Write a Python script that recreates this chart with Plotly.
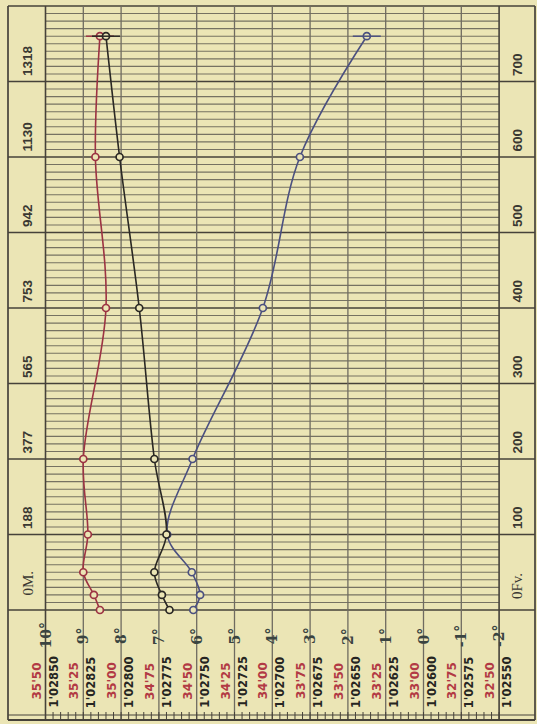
import plotly.graph_objects as go

# ---------------- data ----------------
depth_fathoms = [0, 20, 50, 100, 200, 400, 600, 760]
temperature = [6.09, 5.91, 6.13, 6.78, 6.11, 4.25, 3.27, 1.50]          # blue curve, deg C
salinity = [35.14, 35.18, 35.25, 35.22, 35.25, 35.10, 35.17, 35.14]      # red curve
density = [1.02768, 1.02773, 1.02778, 1.02770, 1.02778, 1.02788, 1.02801, 1.02810]  # black curve

temp_ticks = [10, 9, 8, 7, 6, 5, 4, 3, 2, 1, 0, -1, -2]
temp_labels = ["10°", "9°", "8°", "7°", "6°", "5°", "4°", "3°", "2°", "1°", "0°", "-1°", "-2°"]
sal_ticks = [35.50, 35.25, 35.00, 34.75, 34.50, 34.25, 34.00, 33.75, 33.50, 33.25, 33.00, 32.75, 32.50]
sal_labels = ["35'50", "35'25", "35'00", "34'75", "34'50", "34'25", "34'00",
              "33'75", "33'50", "33'25", "33'00", "32'75", "32'50"]
dens_ticks = [1.02850, 1.02825, 1.02800, 1.02775, 1.02750, 1.02725, 1.02700,
              1.02675, 1.02650, 1.02625, 1.02600, 1.02575, 1.02550]
dens_labels = ["1'02850", "1'02825", "1'02800", "1'02775", "1'02750", "1'02725", "1'02700",
               "1'02675", "1'02650", "1'02625", "1'02600", "1'02575", "1'02550"]
fathom_ticks = [0, 100, 200, 300, 400, 500, 600, 700]
fathom_labels = ["0Fv.", "100", "200", "300", "400", "500", "600", "700"]
meter_labels = ["0M.", "188", "377", "565", "753", "942", "1130", "1318"]

# ---------------- layout geometry ----------------
W, H = 537, 724
X10 = 45.5          # pixel of the 10 deg line
PX_DEG = 37.8       # pixels per degree
Y0 = 610            # pixel of depth 0
PX_FATH = 0.755     # pixels per fathom


def t_at(px):
    return 10 - (px - X10) / PX_DEG


def d_at(py):
    return (Y0 - py) / PX_FATH


def s_of(t):
    return 35.50 - 0.25 * (10 - t)


def dn_of(t):
    return 1.02850 - 0.00025 * (10 - t)


xr = [t_at(0), t_at(W)]
yr = [d_at(H), d_at(0)]

BG = "#ebe5b5"
BLUE = "#4b5080"
RED = "#9c3343"
BLACK = "#2a2824"

fig = go.Figure()


def curve(x, y, color, axis, name):
    fig.add_trace(go.Scatter(
        x=x, y=y, xaxis=axis, yaxis="y", mode="lines+markers", name=name,
        line=dict(color=color, width=1.6, shape="spline", smoothing=1.0),
        marker=dict(symbol="circle", size=7, color=BG, line=dict(color=color, width=1.7)),
        showlegend=False, hoverinfo="skip"))
    fig.add_trace(go.Scatter(
        x=[x[-1]], y=[y[-1]], xaxis=axis, yaxis="y", mode="markers",
        marker=dict(symbol="line-ew", size=20, line=dict(color=color, width=1.5)),
        showlegend=False, hoverinfo="skip"))


curve(salinity, depth_fathoms, RED, "x2", "Salinity")
curve(density, depth_fathoms, BLACK, "x3", "Density")
curve(temperature, depth_fathoms, BLUE, "x", "Temperature")

shapes = []
xl, xrb = t_at(8), t_at(535)
ytop = 800
ybot = d_at(720)

minor_c = "#767262"
major_c = "#46423a"
vert_c = "#6f6b60"

# minor horizontal lines every 10 fathoms
for d in range(10, 800, 10):
    if d % 100 == 0:
        continue
    shapes.append(dict(type="line", xref="x", yref="y", x0=10, x1=-2, y0=d, y1=d,
                       line=dict(color=minor_c, width=1.1), layer="below"))
# major horizontal lines
for d in fathom_ticks:
    shapes.append(dict(type="line", xref="x", yref="y", x0=xl, x1=xrb, y0=d, y1=d,
                       line=dict(color=major_c, width=1.7), layer="below"))
# top border
shapes.append(dict(type="line", xref="x", yref="y", x0=xl, x1=xrb, y0=ytop, y1=ytop,
                   line=dict(color=major_c, width=1.7), layer="below"))
# vertical degree lines
for t in temp_ticks:
    shapes.append(dict(type="line", xref="x", yref="y", x0=t, x1=t, y0=ybot, y1=ytop,
                       line=dict(color=vert_c if t not in (10, -2) else major_c,
                                 width=1.3 if t not in (10, -2) else 1.6), layer="below"))
# outer borders
for xv in (xl, xrb):
    shapes.append(dict(type="line", xref="x", yref="y", x0=xv, x1=xv, y0=ybot, y1=ytop,
                       line=dict(color=major_c, width=1.7), layer="below"))
# bottom scale line and border with small ticks
shapes.append(dict(type="line", xref="x", yref="y", x0=xl, x1=xrb, y0=d_at(715), y1=d_at(715),
                   line=dict(color=major_c, width=1), layer="below"))
shapes.append(dict(type="line", xref="x", yref="y", x0=xl, x1=xrb, y0=ybot, y1=ybot,
                   line=dict(color=major_c, width=2), layer="below"))
k = 0
while 10 - 0.2 * k >= -2 - 1e-9:
    tv = 10 - 0.2 * k
    shapes.append(dict(type="line", xref="x", yref="y", x0=tv, x1=tv, y0=d_at(712), y1=ybot,
                       line=dict(color=major_c, width=1), layer="below"))
    k += 1

annotations = []
# temperature labels
for t, lab in zip(temp_ticks, temp_labels):
    annotations.append(dict(x=t, y=d_at(636), xref="x", yref="y", text="<b>" + lab + "</b>",
                            showarrow=False, textangle=-90,
                            font=dict(family="DejaVu Serif", size=14, color="#3a4441"),
                            xanchor="center", yanchor="middle"))
# salinity labels
for s, lab in zip(sal_ticks, sal_labels):
    annotations.append(dict(x=s, y=d_at(681), xref="x2", yref="y", text="<b>" + lab + "</b>",
                            showarrow=False, textangle=-90, xshift=-9,
                            font=dict(family="DejaVu Sans", size=12, color="#b23a44"),
                            xanchor="center", yanchor="middle"))
# density labels
for dv, lab in zip(dens_ticks, dens_labels):
    annotations.append(dict(x=dv, y=d_at(682), xref="x3", yref="y", text="<b>" + lab + "</b>",
                            showarrow=False, textangle=-90, xshift=8,
                            font=dict(family="DejaVu Sans", size=11.5, color="#262522"),
                            xanchor="center", yanchor="middle"))
# depth labels (meters on the left, fathoms on the right)
for d, ml, fl in zip(fathom_ticks, meter_labels, fathom_labels):
    zero = d == 0
    annotations.append(dict(x=27 / W, y=d + (12 if zero else 3) / PX_FATH, xref="paper", yref="y",
                            text=ml if zero else "<b>" + ml + "</b>",
                            showarrow=False, textangle=-90,
                            font=dict(family="Liberation Serif" if zero else "Liberation Sans",
                                      size=15 if zero else 13.5, color="#3a3832"),
                            xanchor="center", yanchor="bottom"))
    annotations.append(dict(x=517 / W, y=d + (9 if zero else 3) / PX_FATH, xref="paper", yref="y",
                            text=fl if zero else "<b>" + fl + "</b>",
                            showarrow=False, textangle=-90,
                            font=dict(family="Liberation Serif" if zero else "Liberation Sans",
                                      size=15 if zero else 13.5, color="#3a3832"),
                            xanchor="center", yanchor="bottom"))

fig.update_layout(
    width=W, height=H, autosize=False,
    margin=dict(l=0, r=0, t=0, b=0, pad=0),
    paper_bgcolor=BG, plot_bgcolor=BG,
    xaxis=dict(range=xr, visible=False, fixedrange=True),
    xaxis2=dict(range=[s_of(xr[0]), s_of(xr[1])], overlaying="x", visible=False, fixedrange=True),
    xaxis3=dict(range=[dn_of(xr[0]), dn_of(xr[1])], overlaying="x", visible=False, fixedrange=True),
    yaxis=dict(range=yr, visible=False, fixedrange=True),
    shapes=shapes,
    annotations=annotations,
    showlegend=False,
)

fig.write_html("out.html")
